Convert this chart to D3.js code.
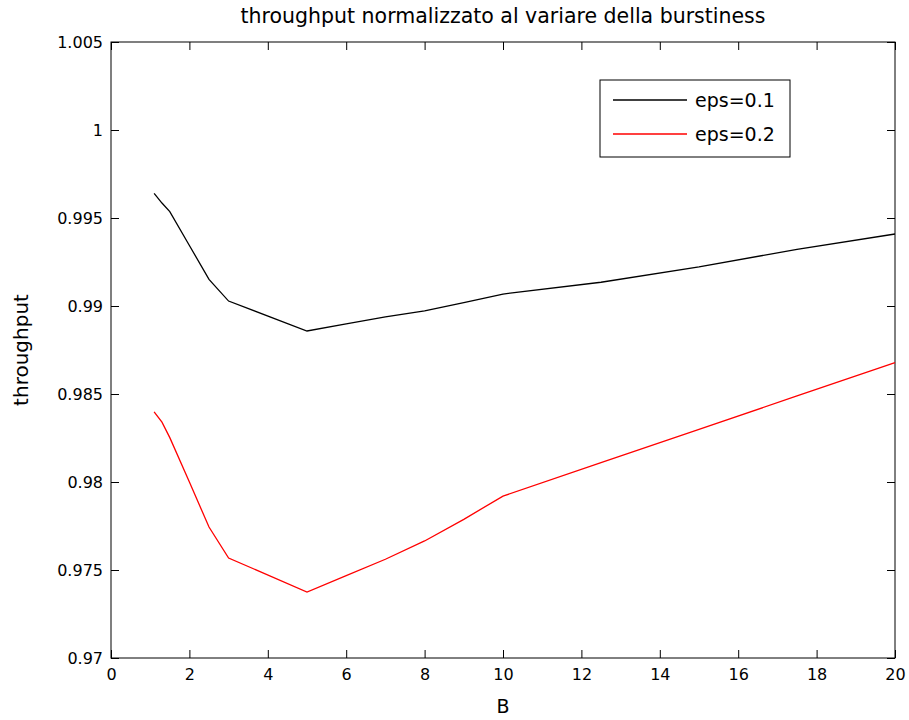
<!DOCTYPE html>
<html>
<head>
<meta charset="utf-8">
<script src="https://cdn.jsdelivr.net/npm/d3@7"></script>
<style>
  html, body { margin: 0; padding: 0; background: #fff; }
  svg { display: block; }
  text { font-family: "DejaVu Sans", "Liberation Sans", Arial, sans-serif; fill: #000; }
</style>
</head>
<body>
<svg id="chart" width="909" height="720"></svg>
<script>
// ---- data ----
const B = [1.1, 1.3, 1.5, 2, 2.5, 3, 5, 6, 7, 8, 9, 10, 12.5, 15, 17.5, 20];
const eps01 = [0.99640, 0.99585, 0.99536, 0.99344, 0.99151, 0.99028, 0.98858, 0.98899, 0.98938, 0.98972, 0.99019, 0.99068, 0.99135, 0.99222, 0.99322, 0.99409];
const eps02 = [0.98399, 0.98340, 0.98252, 0.98000, 0.97744, 0.97568, 0.97375, 0.97468, 0.97561, 0.97665, 0.97788, 0.97920, 0.98110, 0.98299, 0.98489, 0.98678];
const seriesNames = ["eps=0.1", "eps=0.2"];
const seriesColors = ["#000000", "#ff0000"];
const xTicks = [0, 2, 4, 6, 8, 10, 12, 14, 16, 18, 20];
const yTicks = [0.97, 0.975, 0.98, 0.985, 0.99, 0.995, 1, 1.005];
const titleText = "throughput normalizzato al variare della burstiness";
const xLabel = "B";
const yLabel = "throughput";

// ---- layout ----
const svg = d3.select("#chart");
const pL = 111, pR = 895, pT = 42, pB = 658;
const x = d3.scaleLinear().domain([0, 20]).range([pL, pR]);
const y = d3.scaleLinear().domain([0.97, 1.005]).range([pB, pT]);
const fs = 16;
const fmt = d => String(+d.toFixed(3));

// box
svg.append("rect").attr("x", pL).attr("y", pT)
  .attr("width", pR - pL).attr("height", pB - pT)
  .attr("fill", "#fff").attr("stroke", "#000").attr("stroke-width", 1);

function styleAxis(g) {
  g.select(".domain").remove();
  g.selectAll("line").attr("stroke", "#000").attr("stroke-width", 1);
  g.selectAll("text").style("font-size", fs + "px").style("font-family", '"DejaVu Sans", sans-serif');
}

svg.append("g").attr("transform", `translate(0,${pB})`)
  .call(d3.axisBottom(x).tickValues(xTicks).tickFormat(d => d).tickSize(-8).tickPadding(11))
  .call(styleAxis);
svg.append("g").attr("transform", `translate(0,${pT})`)
  .call(d3.axisTop(x).tickValues(xTicks).tickFormat("").tickSize(-8))
  .call(styleAxis);
svg.append("g").attr("transform", `translate(${pL},0)`)
  .call(d3.axisLeft(y).tickValues(yTicks).tickFormat(fmt).tickSize(-8).tickPadding(8))
  .call(styleAxis);
svg.append("g").attr("transform", `translate(${pR},0)`)
  .call(d3.axisRight(y).tickValues(yTicks).tickFormat("").tickSize(-8))
  .call(styleAxis);

// lines
const line = d3.line().x((d, i) => x(B[i])).y(d => y(d));
[eps01, eps02].forEach((s, k) => {
  svg.append("path").datum(s)
    .attr("fill", "none").attr("stroke", seriesColors[k])
    .attr("stroke-width", 1.3).attr("d", line);
});

// title and labels
svg.append("text").attr("x", (pL + pR) / 2).attr("y", 23)
  .attr("text-anchor", "middle").style("font-size", "20.5px").text(titleText);
svg.append("text").attr("x", (pL + pR) / 2).attr("y", 713)
  .attr("text-anchor", "middle").style("font-size", "19px").text(xLabel);
svg.append("text").attr("transform", `translate(28,${(pT + pB) / 2}) rotate(-90)`)
  .attr("text-anchor", "middle").style("font-size", "20px").text(yLabel);

// legend
const lg = svg.append("g");
lg.append("rect").attr("x", 600).attr("y", 80).attr("width", 190).attr("height", 77)
  .attr("fill", "#fff").attr("stroke", "#000").attr("stroke-width", 1);
seriesNames.forEach((n, k) => {
  const ly = 100 + k * 34;
  lg.append("line").attr("x1", 613).attr("x2", 687).attr("y1", ly).attr("y2", ly)
    .attr("stroke", seriesColors[k]).attr("stroke-width", 1.3);
  lg.append("text").attr("x", 695).attr("y", ly).attr("dy", "0.36em")
    .style("font-size", "19px").text(n);
});
</script>
</body>
</html>
